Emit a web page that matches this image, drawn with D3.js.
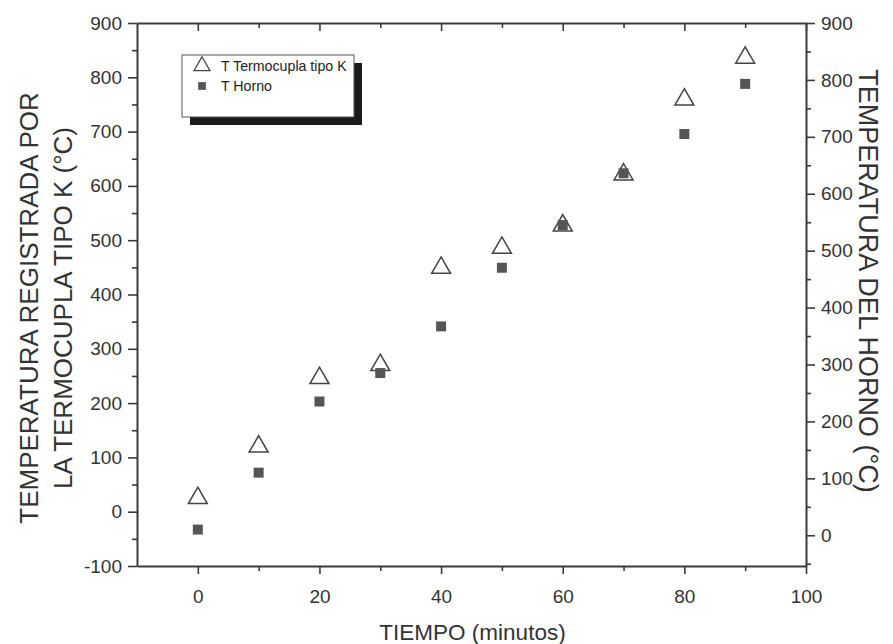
<!DOCTYPE html>
<html>
<head>
<meta charset="utf-8">
<script src="https://cdn.jsdelivr.net/npm/d3@7"></script>
<style>
  html, body { margin: 0; padding: 0; background: #fff; }
  svg { display: block; font-family: "Liberation Sans", Arial, sans-serif; }
</style>
</head>
<body>
<svg id="chart" width="893" height="644"></svg>
<script>
// ---- data ----
const tiempo = [0, 10, 20, 30, 40, 50, 60, 70, 80, 90];
const termocupla = [25, 120, 246, 270, 449, 486, 527, 621, 759, 836];   // left axis
const horno = [10, 110, 235, 285, 367, 470, 545, 636, 705, 793];         // right axis
const xTicks = [0, 20, 40, 60, 80, 100];
const xMinor = [10, 30, 50, 70, 90];
const yLeftTicks = [-100, 0, 100, 200, 300, 400, 500, 600, 700, 800, 900];
const yLeftMinor = [-50, 50, 150, 250, 350, 450, 550, 650, 750, 850];
const yRightTicks = [0, 100, 200, 300, 400, 500, 600, 700, 800, 900];
const yRightMinor = [-50, 50, 150, 250, 350, 450, 550, 650, 750, 850];
const legendLabels = ["T Termocupla tipo K", "T Horno"];
const xTitle = "TIEMPO (minutos)";
const yLeftTitle = ["TEMPERATURA REGISTRADA POR", "LA TERMOCUPLA TIPO K (°C)"];
const yRightTitle = "TEMPERATURA DEL HORNO (°C)";

// ---- layout ----
const L = 137, R = 806, T = 23, B = 566;
const axisColor = "#3a3a3a", textColor = "#333";
const svg = d3.select("#chart");

const x = d3.scaleLinear().domain([-10, 100]).range([L, R]);
const yL = d3.scaleLinear().domain([-100, 900]).range([B, T]);
const yR = d3.scaleLinear().domain([-54, 900]).range([B, T]);

function styleAxis(g, fs) {
  g.select(".domain").attr("stroke", axisColor).attr("stroke-width", 2);
  g.selectAll(".tick line").attr("stroke", axisColor).attr("stroke-width", 1.6);
  g.selectAll(".tick text").attr("fill", textColor).style("font-size", fs + "px")
    .style("font-family", "'Liberation Sans', Arial, sans-serif");
}

// bottom axis
const gB = svg.append("g").attr("transform", `translate(0,${B})`)
  .call(d3.axisBottom(x).tickValues(xTicks).tickSize(8).tickSizeOuter(0).tickPadding(16).tickFormat(d3.format("d")));
styleAxis(gB, 19);
const gBm = svg.append("g").attr("transform", `translate(0,${B})`)
  .call(d3.axisBottom(x).tickValues(xMinor).tickSize(5).tickSizeOuter(0).tickFormat(""));
styleAxis(gBm, 19); gBm.select(".domain").remove();

// top axis (ticks inward)
const gT = svg.append("g").attr("transform", `translate(0,${T})`)
  .call(d3.axisTop(x).tickValues(xTicks).tickSize(-8).tickSizeOuter(0).tickFormat(""));
styleAxis(gT, 19);
const gTm = svg.append("g").attr("transform", `translate(0,${T})`)
  .call(d3.axisTop(x).tickValues(xMinor).tickSize(-5).tickSizeOuter(0).tickFormat(""));
styleAxis(gTm, 19); gTm.select(".domain").remove();

// left axis
const gL = svg.append("g").attr("transform", `translate(${L},0)`)
  .call(d3.axisLeft(yL).tickValues(yLeftTicks).tickSize(9).tickSizeOuter(0).tickPadding(6).tickFormat(d3.format("d")));
styleAxis(gL, 19);
gL.selectAll(".tick text").text(d => d < 0 ? "-" + Math.abs(d) : d);
const gLm = svg.append("g").attr("transform", `translate(${L},0)`)
  .call(d3.axisLeft(yL).tickValues(yLeftMinor).tickSize(5).tickSizeOuter(0).tickFormat(""));
styleAxis(gLm, 19); gLm.select(".domain").remove();

// right axis
const gR = svg.append("g").attr("transform", `translate(${R},0)`)
  .call(d3.axisRight(yR).tickValues(yRightTicks).tickSize(9).tickSizeOuter(0).tickPadding(6).tickFormat(d3.format("d")));
styleAxis(gR, 19);
const gRm = svg.append("g").attr("transform", `translate(${R},0)`)
  .call(d3.axisRight(yR).tickValues(yRightMinor).tickSize(5).tickSizeOuter(0).tickFormat(""));
styleAxis(gRm, 19); gRm.select(".domain").remove();

// titles
svg.append("text").attr("x", (L + R) / 2 + 1).attr("y", 640)
  .attr("text-anchor", "middle").attr("fill", textColor).style("font-size", "22.5px").text(xTitle);

const ltx = [29, 63];
yLeftTitle.forEach((t, i) => {
  svg.append("text")
    .attr("transform", `translate(${ltx[i]},308) rotate(-90)`)
    .attr("text-anchor", "middle").attr("dy", "0.35em")
    .attr("fill", textColor).style("font-size", "26px").text(t);
});
svg.append("text")
  .attr("transform", `translate(868,281) rotate(90)`)
  .attr("text-anchor", "middle").attr("dy", "0.35em")
  .attr("fill", textColor).style("font-size", "27px").text(yRightTitle);

// data points
const tri = d3.symbol().type(d3.symbolTriangle).size(155);
const sq = d3.symbol().type(d3.symbolSquare).size(100);

svg.append("g").selectAll("path").data(tiempo).join("path")
  .attr("d", tri)
  .attr("transform", (d, i) => `translate(${x(d)},${yL(termocupla[i])})`)
  .attr("fill", "#fff").attr("stroke", "#444").attr("stroke-width", 1.5);

svg.append("g").selectAll("path").data(tiempo).join("path")
  .attr("d", sq)
  .attr("transform", (d, i) => `translate(${x(d)},${yR(horno[i])})`)
  .attr("fill", "#555");

// legend
const lg = svg.append("g");
lg.append("rect").attr("x", 190).attr("y", 63).attr("width", 172).attr("height", 62).attr("fill", "#1a1a1a");
lg.append("rect").attr("x", 182).attr("y", 55).attr("width", 172).attr("height", 62)
  .attr("fill", "#fff").attr("stroke", "#555").attr("stroke-width", 1);
lg.append("path").attr("d", d3.symbol().type(d3.symbolTriangle).size(110))
  .attr("transform", "translate(202,66)").attr("fill", "#fff").attr("stroke", "#444").attr("stroke-width", 1.3);
lg.append("path").attr("d", d3.symbol().type(d3.symbolSquare).size(60))
  .attr("transform", "translate(202,86)").attr("fill", "#555");
legendLabels.forEach((t, i) => {
  lg.append("text").attr("x", 221).attr("y", 66 + i * 20).attr("dy", "0.35em")
    .attr("fill", "#222").style("font-size", "14.2px").text(t);
});
</script>
</body>
</html>
